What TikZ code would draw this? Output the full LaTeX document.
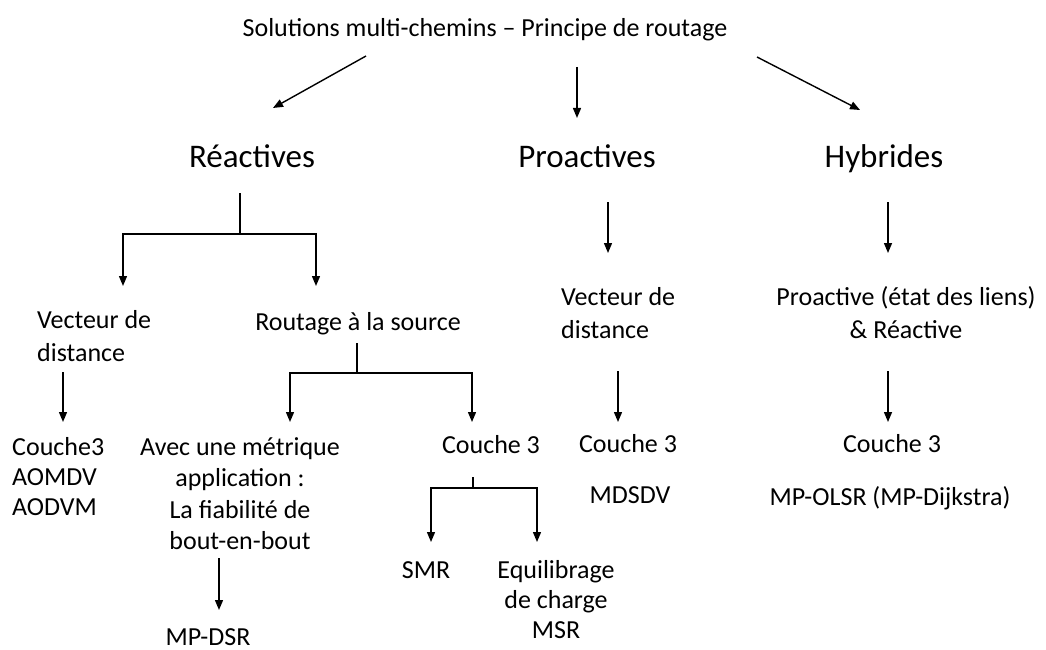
\documentclass[tikz,border=0pt]{standalone}
\usepackage{fontspec}
\setmainfont{Carlito}
\usetikzlibrary{arrows.meta}
\begin{document}
\begin{tikzpicture}[x=1pt,y=-1pt,
  arr/.style={-{Triangle[length=10pt,width=8pt]},line width=1.4pt},
  ln/.style={line width=1.4pt},
  txt/.style={inner sep=0pt,font=\fontsize{26}{30}\selectfont,align=center},
  txtw/.style={inner sep=0pt,font=\fontsize{26}{33}\selectfont,align=center},
  lvl/.style={inner sep=0pt,font=\fontsize{33}{38}\selectfont,anchor=base},
  ttl/.style={inner sep=0pt,font=\fontsize{26}{30}\selectfont,anchor=base}]
\useasboundingbox (0,0) rectangle (1046,650);
% title and level 1
\node[ttl] (title) at (485,37) {Solutions multi-chemins -- Principe de routage};
\node[lvl] (react) at (252,167) {Réactives};
\node[lvl] (proact) at (587,167) {Proactives};
\node[lvl] (hybr) at (884,167) {Hybrides};
\coordinate (a1s) at (366,56); \coordinate (a1e) at (273,108);
\coordinate (a2s) at (577,67); \coordinate (a2e) at (577,118);
\coordinate (a3s) at (757,57); \coordinate (a3e) at (860,110);
\draw[arr] (a1s) -- (a1e);
\draw[arr] (a2s) -- (a2e);
\draw[arr] (a3s) -- (a3e);
% Reactives subtree
\node[txtw,align=left,anchor=north west] (vd) at (37,305) {\strut Vecteur de\\distance};
\node[txt,anchor=base] (rsrc) at (358,330) {Routage à la source};
\coordinate (r0) at (240,193); \coordinate (r1) at (240,234);
\coordinate (rl) at (123,234); \coordinate (rr) at (316,234);
\coordinate (rle) at (123,286); \coordinate (rre) at (316,286);
\draw[ln] (r0) -- (r1);
\draw[arr] (r1) -- (rl) -- (rle);
\draw[arr] (r1) -- (rr) -- (rre);
\node[txt,align=left,anchor=north west] (c3a) at (12,434) {\strut Couche3\\AOMDV\\AODVM};
\coordinate (v0) at (63,372); \coordinate (v1) at (63,422);
\draw[arr] (v0) -- (v1);
% Routage a la source subtree
\node[txt,anchor=north] (avec) at (240,434) {\strut Avec une métrique\\[1.5pt]application :\\[1.5pt]La fiabilité de\\[1.5pt]bout-en-bout};
\node[txt,anchor=base] (c3b) at (491,453) {Couche 3};
\coordinate (s0) at (357,343); \coordinate (s1) at (357,373);
\coordinate (sl) at (290,373); \coordinate (sr) at (472,373);
\coordinate (sle) at (290,422); \coordinate (sre) at (472,422);
\draw[ln] (s0) -- (s1);
\draw[arr] (s1) -- (sl) -- (sle);
\draw[arr] (s1) -- (sr) -- (sre);
\node[txt,anchor=base] (mpdsr) at (208,645) {MP-DSR};
\coordinate (m0) at (219,558); \coordinate (m1) at (219,610);
\draw[arr] (m0) -- (m1);
% Couche 3 subtree
\node[txt,anchor=base] (smr) at (426,578) {SMR};
\node[txt,anchor=north] (equi) at (556,557) {\strut Equilibrage\\de charge\\MSR};
\coordinate (k0) at (473,477); \coordinate (k1) at (473,488);
\coordinate (kl) at (431,488); \coordinate (kr) at (537,488);
\coordinate (kle) at (431,542); \coordinate (kre) at (537,542);
\draw[ln] (k0) -- (k1);
\draw[arr] (k1) -- (kl) -- (kle);
\draw[arr] (k1) -- (kr) -- (kre);
% Proactives subtree
\coordinate (p0) at (608,202); \coordinate (p1) at (608,253);
\draw[arr] (p0) -- (p1);
\node[txtw,align=left,anchor=north west] (vdp) at (561,282) {\strut Vecteur de\\distance};
\coordinate (p2) at (618,371); \coordinate (p3) at (618,422);
\draw[arr] (p2) -- (p3);
\node[txt,anchor=base] (c3p) at (628,452) {Couche 3};
\node[txt,anchor=base] (mdsdv) at (630,503) {MDSDV};
% Hybrides subtree
\coordinate (h0) at (888,202); \coordinate (h1) at (888,253);
\draw[arr] (h0) -- (h1);
\node[txtw,anchor=north] (prre) at (906,282) {\strut Proactive (état des liens)\\\& Réactive};
\coordinate (h2) at (888,371); \coordinate (h3) at (888,422);
\draw[arr] (h2) -- (h3);
\node[txt,anchor=base] (c3h) at (892,452) {Couche 3};
\node[txt,anchor=base] (mpolsr) at (890,505) {MP-OLSR (MP-Dijkstra)};
\end{tikzpicture}
\end{document}
